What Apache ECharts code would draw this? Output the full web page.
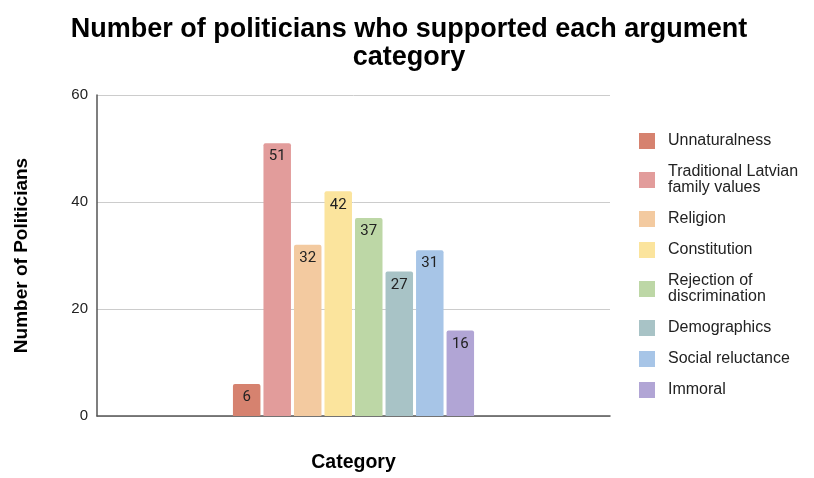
<!DOCTYPE html>
<html>
<head>
<meta charset="utf-8">
<script src="https://cdn.jsdelivr.net/npm/echarts@6/dist/echarts.min.js"></script>
<style>
  html, body { margin: 0; padding: 0; background: #fff; }
  #chart { width: 814px; height: 478px; }
</style>
</head>
<body>
<div id="chart"></div>
<script>
const categories = [''];
const seriesNames = [
  'Unnaturalness',
  'Traditional Latvian\nfamily values',
  'Religion',
  'Constitution',
  'Rejection of\ndiscrimination',
  'Demographics',
  'Social reluctance',
  'Immoral'
];
const seriesValues = [6, 51, 32, 42, 37, 27, 31, 16];
const yTicks = [0, 20, 40, 60];
const colors = ['#d6826f', '#e29c9b', '#f3caa0', '#fbe49d', '#bdd7a6', '#a8c3c6', '#a7c5e7', '#b1a5d5'];

const chart = echarts.init(document.getElementById('chart'));

const series = seriesNames.map((name, i) => ({
  name: name,
  type: 'bar',
  barGap: '11%',
  barCategoryGap: '53%',
  itemStyle: { color: colors[i], borderRadius: [2, 2, 0, 0] },
  label: {
    show: true,
    position: 'insideTop',
    distance: 6,
    color: '#222',
    fontSize: 15,
    fontFamily: 'Roboto'
  },
  data: [seriesValues[i]]
}));

const option = {
  title: {
    text: 'Number of politicians who supported each argument\ncategory',
    left: 404,
    textAlign: 'center',
    top: 11,
    textStyle: {
      fontFamily: 'Liberation Sans',
      fontWeight: 'bold',
      fontSize: 27,
      lineHeight: 28,
      color: '#000'
    }
  },
  grid: { left: 97, right: 204, top: 95, bottom: 59 },
  legend: {
    orient: 'vertical',
    left: 639,
    top: 133,
    padding: 0,
    itemWidth: 16,
    itemHeight: 16,
    itemGap: 15,
    icon: 'rect',
    textStyle: {
      fontFamily: 'Liberation Sans',
      fontSize: 16,
      lineHeight: 16,
      color: '#222',
      padding: [0, 0, 0, 8]
    },
    data: seriesNames
  },
  xAxis: {
    type: 'category',
    data: categories,
    name: 'Category',
    nameLocation: 'middle',
    nameGap: 37,
    nameTextStyle: { fontFamily: 'Liberation Sans', fontWeight: 'bold', fontSize: 19.5, color: '#000' },
    axisLine: { lineStyle: { color: '#555', width: 1.5 } },
    axisTick: { show: false },
    axisLabel: { show: false }
  },
  yAxis: {
    type: 'value',
    min: yTicks[0],
    max: yTicks[yTicks.length - 1],
    interval: 20,
    name: 'Number of Politicians',
    nameLocation: 'middle',
    nameGap: 66,
    nameTextStyle: { fontFamily: 'Liberation Sans', fontWeight: 'bold', fontSize: 19, color: '#000' },
    axisLine: { show: true, lineStyle: { color: '#555', width: 1.5 } },
    axisTick: { show: false },
    axisLabel: { fontFamily: 'Liberation Sans', fontSize: 15, color: '#222', margin: 9 },
    splitLine: { lineStyle: { color: '#ccc' } }
  },
  series: series
};

chart.setOption(option);
</script>
</body>
</html>
